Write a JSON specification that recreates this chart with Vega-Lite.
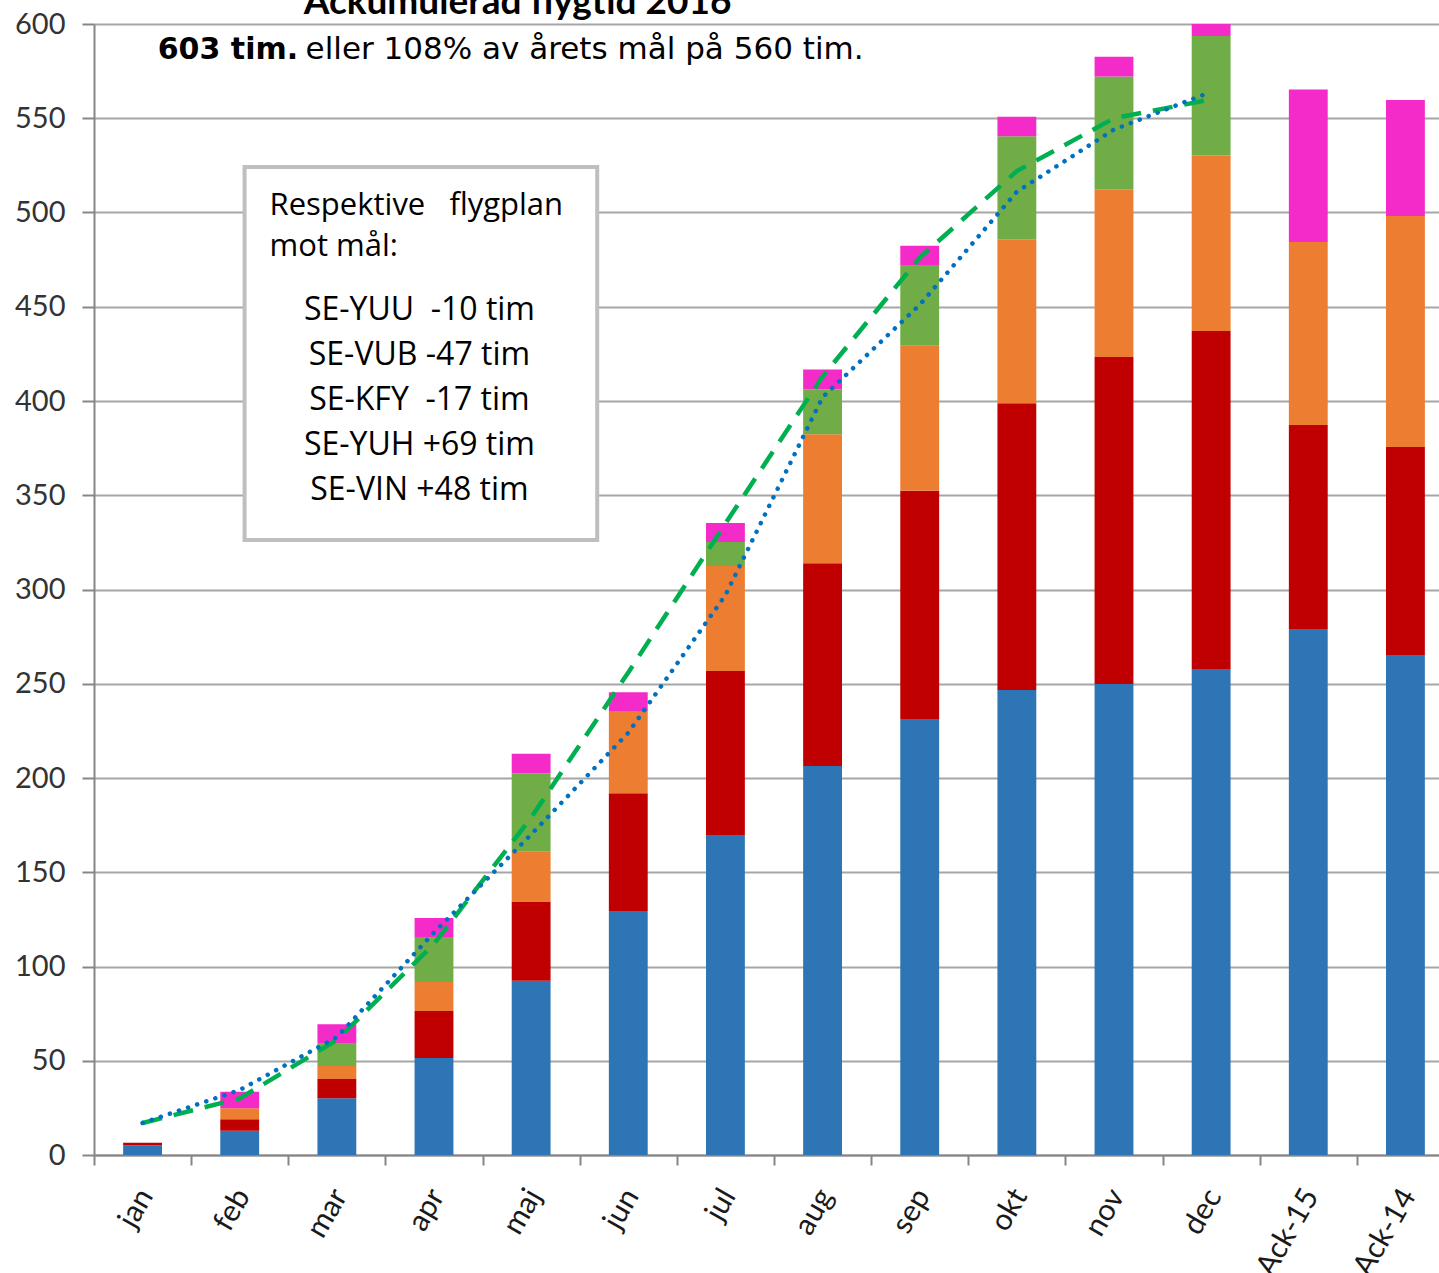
{
  "$schema": "https://vega.github.io/schema/vega-lite/v6.json",
  "width": 1345,
  "height": 1131,
  "autosize": "none",
  "padding": {"left": 94, "top": 24, "right": 0, "bottom": 118},
  "config": {"view": {"stroke": null}, "font": "Lato", "text": {"font": "Lato"}},
  "datasets": {
    "bars": [
      {"m": "jan", "YUU": 5, "VUB": 1.5, "KFY": 0, "YUH": 0, "VIN": 0},
      {"m": "feb", "YUU": 12.9, "VUB": 6.1, "KFY": 5.8, "YUH": 0, "VIN": 8.8},
      {"m": "mar", "YUU": 30.1, "VUB": 10.2, "KFY": 6.9, "YUH": 11.8, "VIN": 10.3},
      {"m": "apr", "YUU": 51.4, "VUB": 25, "KFY": 15.4, "YUH": 23.8, "VIN": 10.1},
      {"m": "maj", "YUU": 92.4, "VUB": 42.1, "KFY": 26.4, "YUH": 41.6, "VIN": 10.4},
      {"m": "jun", "YUU": 129.4, "VUB": 62.5, "KFY": 43.3, "YUH": 0, "VIN": 10.3},
      {"m": "jul", "YUU": 169.8, "VUB": 87, "KFY": 55.7, "YUH": 12.7, "VIN": 10.1},
      {"m": "aug", "YUU": 206.4, "VUB": 107.5, "KFY": 68.4, "YUH": 23.9, "VIN": 10.5},
      {"m": "sep", "YUU": 231.3, "VUB": 121.1, "KFY": 76.9, "YUH": 42.8, "VIN": 10.3},
      {"m": "okt", "YUU": 246.7, "VUB": 152.1, "KFY": 87, "YUH": 54.6, "VIN": 10.4},
      {"m": "nov", "YUU": 249.9, "VUB": 173.5, "KFY": 88.9, "YUH": 59.9, "VIN": 10.4},
      {"m": "dec", "YUU": 257.8, "VUB": 179.3, "KFY": 93.2, "YUH": 63.3, "VIN": 9.4},
      {"m": "Ack-15", "YUU": 279, "VUB": 108.3, "KFY": 97.1, "YUH": 0, "VIN": 80.9},
      {"m": "Ack-14", "YUU": 265.3, "VUB": 110.3, "KFY": 122.5, "YUH": 0, "VIN": 61.6}
    ],
    "lines": [
      {"m": "jan", "mal": 17, "ack15": 17},
      {"m": "feb", "mal": 30, "ack15": 34.5},
      {"m": "mar", "mal": 61, "ack15": 62.5},
      {"m": "apr", "mal": 112, "ack15": 118},
      {"m": "maj", "mal": 179, "ack15": 170},
      {"m": "jun", "mal": 256, "ack15": 224},
      {"m": "jul", "mal": 335, "ack15": 297},
      {"m": "aug", "mal": 413, "ack15": 402},
      {"m": "sep", "mal": 476, "ack15": 451},
      {"m": "okt", "mal": 522, "ack15": 511},
      {"m": "nov", "mal": 550, "ack15": 544},
      {"m": "dec", "mal": 560, "ack15": 564}
    ],
    "box": [{"x1": 1.55, "x2": 5.18, "y1": 326.3, "y2": 524.1}],
    "leftText": [
      {"t": "Respektive\u00a0\u00a0 flygplan", "xi": 1.807, "yv": 503.4},
      {"t": "mot mål:", "xi": 1.807, "yv": 481.7}
    ],
    "centerText": [
      {"t": "SE-YUU\u00a0 -10 tim", "xi": 3.35, "yv": 448.3},
      {"t": "SE-VUB -47 tim", "xi": 3.35, "yv": 424.4},
      {"t": "SE-KFY\u00a0 -17 tim", "xi": 3.35, "yv": 400.5},
      {"t": "SE-YUH +69 tim", "xi": 3.35, "yv": 376.7},
      {"t": "SE-VIN +48 tim", "xi": 3.35, "yv": 352.8}
    ],
    "subBold": [{"t": "603 tim.", "xi": 0.656, "yv": 586.2}],
    "subNormal": [{"t": "eller 108% av årets mål på 560 tim.", "xi": 2.178, "yv": 586.2}],
    "title": [{"t": "Ackumulerad flygtid 2016", "xi": 4.36, "yv": 605.2}]
  },
  "layer": [
    {
      "layer": [
        {
          "data": {"name": "bars"},
          "transform": [
            {"fold": ["YUU", "VUB", "KFY", "YUH", "VIN"], "as": ["plan", "v"]},
            {"calculate": "indexof(['YUU','VUB','KFY','YUH','VIN'], datum.plan)", "as": "ord"}
          ],
          "mark": {"type": "bar", "clip": true},
          "encoding": {
            "x": {
              "field": "m", "type": "nominal",
              "scale": {"domain": ["jan","feb","mar","apr","maj","jun","jul","aug","sep","okt","nov","dec","Ack-15","Ack-14"], "range": [0, 1360], "paddingInner": 0.6, "paddingOuter": 0.3},
              "axis": {
                "title": null, "labelAngle": -60, "labelAlign": "right", "labelBaseline": "middle",
                "labelFontSize": 30, "labelColor": "#1a1a1a", "labelFont": "Lato", "labelPadding": 26,
                "tickOffset": -48.57, "labelOffset": 51.5,
                "tickSize": 10, "tickColor": "#868686", "tickWidth": 2,
                "domainColor": "#868686", "domainWidth": 2, "grid": false
              }
            },
            "y": {
              "field": "v", "type": "quantitative", "stack": "zero",
              "scale": {"domain": [0, 600], "nice": false},
              "axis": {
                "title": null, "values": [0,50,100,150,200,250,300,350,400,450,500,550,600],
                "labelFontSize": 29, "labelColor": "#333333", "labelFont": "Lato", "labelPadding": 17,
                "tickSize": 12, "tickColor": "#868686", "tickWidth": 2,
                "domainColor": "#868686", "domainWidth": 2,
                "grid": true, "gridColor": "#a6a6a6", "gridWidth": 2
              }
            },
            "color": {
              "field": "plan", "type": "nominal",
              "scale": {"domain": ["YUU","VUB","KFY","YUH","VIN"], "range": ["#2E75B6","#C00000","#ED7D31","#70AD47","#F42AC9"]},
              "legend": null
            },
            "order": {"field": "ord", "type": "quantitative"}
          }
        },
        {
          "data": {"name": "lines"},
          "mark": {"type": "line", "stroke": "#00B050", "strokeWidth": 4.5, "strokeDash": [20, 12]},
          "encoding": {
            "x": {"field": "m", "type": "nominal"},
            "y": {"field": "mal", "type": "quantitative"}
          }
        },
        {
          "data": {"name": "lines"},
          "mark": {"type": "line", "stroke": "#0070C0", "strokeWidth": 4.5, "strokeDash": [0.1, 9.5], "strokeCap": "round"},
          "encoding": {
            "x": {"field": "m", "type": "nominal"},
            "y": {"field": "ack15", "type": "quantitative"}
          }
        }
      ]
    },
    {
      "layer": [
        {
          "data": {"name": "box"},
          "mark": {"type": "rect", "fill": "white", "stroke": "#bfbfbf", "strokeWidth": 4},
          "encoding": {
            "x": {"field": "x1", "type": "quantitative", "scale": {"domain": [0, 14], "range": [0, 1360], "nice": false, "zero": false}, "axis": null},
            "x2": {"field": "x2"},
            "y": {"field": "y1", "type": "quantitative", "scale": {"domain": [0, 600], "nice": false}},
            "y2": {"field": "y2"}
          }
        },
        {
          "data": {"name": "leftText"},
          "mark": {"type": "text", "align": "left", "baseline": "middle", "fontSize": 31, "font": "Open Sans", "color": "#000000"},
          "encoding": {
            "x": {"field": "xi", "type": "quantitative"},
            "y": {"field": "yv", "type": "quantitative"},
            "text": {"field": "t"}
          }
        },
        {
          "data": {"name": "centerText"},
          "mark": {"type": "text", "align": "center", "baseline": "middle", "fontSize": 32, "font": "Open Sans", "color": "#000000"},
          "encoding": {
            "x": {"field": "xi", "type": "quantitative"},
            "y": {"field": "yv", "type": "quantitative"},
            "text": {"field": "t"}
          }
        },
        {
          "data": {"name": "subBold"},
          "mark": {"type": "text", "align": "left", "baseline": "middle", "fontSize": 30, "font": "DejaVu Sans", "fontWeight": "bold", "color": "#000000"},
          "encoding": {
            "x": {"field": "xi", "type": "quantitative"},
            "y": {"field": "yv", "type": "quantitative"},
            "text": {"field": "t"}
          }
        },
        {
          "data": {"name": "subNormal"},
          "mark": {"type": "text", "align": "left", "baseline": "middle", "fontSize": 31, "font": "DejaVu Sans", "color": "#000000"},
          "encoding": {
            "x": {"field": "xi", "type": "quantitative"},
            "y": {"field": "yv", "type": "quantitative"},
            "text": {"field": "t"}
          }
        },
        {
          "data": {"name": "title"},
          "mark": {"type": "text", "align": "center", "baseline": "alphabetic", "fontSize": 37, "font": "Lato", "fontWeight": "bold", "color": "#000000"},
          "encoding": {
            "x": {"field": "xi", "type": "quantitative"},
            "y": {"field": "yv", "type": "quantitative"},
            "text": {"field": "t"}
          }
        }
      ]
    }
  ],
  "resolve": {"scale": {"x": "independent"}}
}
